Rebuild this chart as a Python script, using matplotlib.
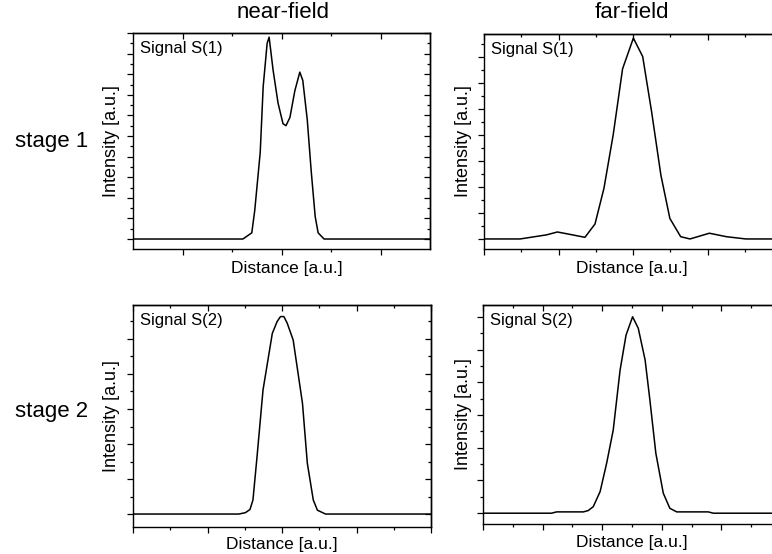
import matplotlib
matplotlib.use("Agg")
import matplotlib.pyplot as plt
from matplotlib.ticker import MultipleLocator, FixedLocator

plt.rcParams['font.family'] = ['Liberation Sans', 'DejaVu Sans']

W, H = 772, 554

# near-field, stage 1 (two peaks)
nf1_x = [0, 2.22, 2.40, 2.46, 2.57, 2.63, 2.71, 2.75, 2.83, 2.93, 3.03, 3.09,
         3.17, 3.27, 3.37, 3.43, 3.52, 3.60, 3.68, 3.74, 3.86, 6]
nf1_y = [0, 0, 0.03, 0.14, 0.42, 0.74, 0.95, 0.98, 0.82, 0.66, 0.56, 0.55,
         0.59, 0.72, 0.81, 0.77, 0.58, 0.33, 0.11, 0.03, 0, 0]

# far-field, stage 1
ff1_x = [0, 0.97, 1.68, 1.97, 2.26, 2.71, 2.98, 3.22, 3.47, 3.72, 4.01, 4.26,
         4.50, 4.75, 4.99, 5.28, 5.53, 6.05, 6.51, 7.03, 8]
ff1_y = [0, 0, 0.02, 0.034, 0.024, 0.008, 0.073, 0.247, 0.51, 0.83, 0.98, 0.89,
         0.62, 0.31, 0.10, 0.011, 0, 0.028, 0.011, 0, 0]

# near-field, stage 2
nf2_x = [0, 2.84, 3.02, 3.14, 3.22, 3.33, 3.49, 3.74, 3.87, 3.96, 4.05, 4.14,
         4.30, 4.55, 4.68, 4.84, 4.95, 5.17, 8]
nf2_y = [0, 0, 0.04, 0.13, 0.40, 1.64, 3.54, 5.16, 5.50, 5.64, 5.64, 5.45,
         4.97, 3.16, 1.45, 0.40, 0.11, 0, 0]

# far-field, stage 2
ff2_x = [0, 2.30, 2.47, 3.37, 3.53, 3.70, 3.93, 4.15, 4.37, 4.60, 4.80, 5.02,
         5.21, 5.44, 5.60, 5.80, 6.05, 6.27, 6.50, 7.56, 7.73, 10]
ff2_y = [0, 0, 0.04, 0.04, 0.08, 0.20, 0.66, 1.53, 2.54, 4.37, 5.44, 6.00,
         5.65, 4.68, 3.46, 1.83, 0.61, 0.15, 0.04, 0.04, 0, 0]

col_titles = ["near-field", "far-field"]
row_titles = ["stage 1", "stage 2"]
signal_labels = ["Signal S(1)", "Signal S(2)"]


def box(l, r, t, b):
    return [l / W, 1 - b / H, (r - l) / W, (b - t) / H]


def set_locators(axis, major, minor):
    axis.set_major_locator(major)
    axis.set_minor_locator(minor)


fig = plt.figure(figsize=(W / 100, H / 100), dpi=100)

panels = [
    (box(133, 430, 33, 249), nf1_x, nf1_y, (0, 6), (-0.0485, 1.0), None, 0.1, 0.05, 0),
    (box(484, 782, 34, 249), ff1_x, ff1_y, (0, 8), (-0.049, 1.0), (2, 1), 0.127, 0.0635, 0),
    (box(133, 431, 305, 527), nf2_x, nf2_y, (0, 8), (-0.37, 5.97), (2, 1), 1, 0.5, 1),
    (box(483, 781, 305, 524), ff2_x, ff2_y, (0, 10), (-0.33, 6.36), (2, 1), 1, 0.5, 1),
]

for rect, xs, ys, xl, yl, xt, ymaj, ymin, row in panels:
    ax = fig.add_axes(rect)
    ax.plot(xs, ys, color='black', lw=1.1)
    ax.set_xlim(*xl)
    ax.set_ylim(*yl)
    for sp in ax.spines.values():
        sp.set_linewidth(1.0)

    # bottom/left ticks point out, mirrored top/right ticks point in
    top = ax.secondary_xaxis('top')
    right = ax.secondary_yaxis('right')
    for xa in (ax.xaxis, top.xaxis):
        if xt is None:
            set_locators(xa, FixedLocator([1, 3, 5]), FixedLocator([2, 4]))
        else:
            set_locators(xa, MultipleLocator(xt[0]), MultipleLocator(xt[1]))
    for ya in (ax.yaxis, right.yaxis):
        set_locators(ya, MultipleLocator(ymaj), MultipleLocator(ymin))

    ax.tick_params(which='both', labelbottom=False, labelleft=False,
                   direction='out', width=0.9)
    top.tick_params(which='both', labeltop=False, direction='in', width=0.9)
    right.tick_params(which='both', labelright=False, direction='in', width=0.9)
    for a in (ax, top, right):
        a.tick_params(which='major', length=4)
        a.tick_params(which='minor', length=2.5)
    top.spines['top'].set_linewidth(1.0)
    right.spines['right'].set_linewidth(1.0)

    ax.text(0.024, 0.93, signal_labels[row], transform=ax.transAxes,
            fontsize=12, va='center', ha='left')


def ftext(px, py, s, **kw):
    fig.text(px / W, 1 - py / H, s, ha='center', va='center', **kw)


for px, py in [(287, 268), (632, 268), (282, 544), (632, 543)]:
    ftext(px, py, "Distance [a.u.]", fontsize=12.5)
for px, py in [(112, 141), (463, 141), (112, 416), (463, 414)]:
    ftext(px, py, "Intensity [a.u.]", fontsize=13, rotation=90)

ftext(283, 12, col_titles[0], fontsize=16)
ftext(632, 12, col_titles[1], fontsize=16)
ftext(52, 141, row_titles[0], fontsize=16)
ftext(52, 412, row_titles[1], fontsize=16)

fig.savefig("out.png", dpi=100)
